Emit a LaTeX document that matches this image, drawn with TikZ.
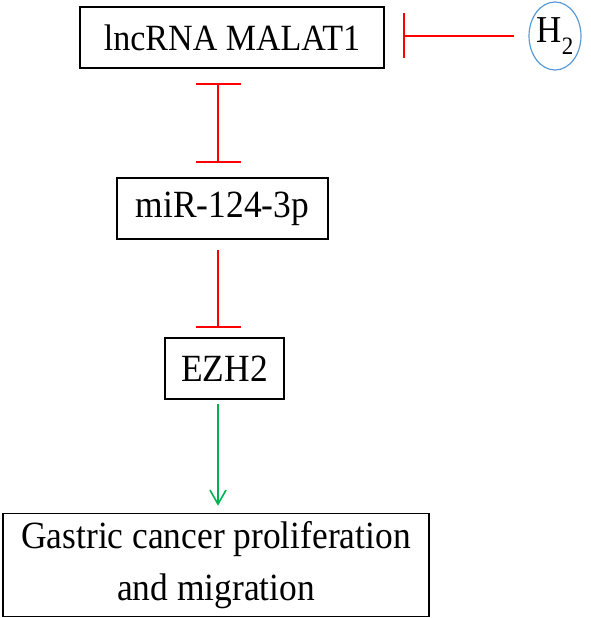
\documentclass[tikz,border=0pt]{standalone}
\usepackage{fontspec}
\setmainfont{Liberation Serif}
\newfontfamily\tallserif[FakeStretch=0.92]{Liberation Serif}
\usetikzlibrary{arrows.meta,shapes.geometric}
\definecolor{inhred}{RGB}{255,0,0}
\definecolor{actgreen}{RGB}{0,176,80}
\definecolor{ellblue}{RGB}{91,155,213}
\tikzset{
  box/.style={draw=black, line width=1.6pt, rectangle, inner sep=0pt, align=center,
    font=\tallserif\fontsize{38.5}{52}\selectfont},
  inh/.style={draw=inhred, line width=1.8pt},
  act/.style={draw=actgreen, line width=1.6pt, -{Straight Barb[length=14pt,width=16pt,line width=1.6pt]}},
}
\begin{document}
\begin{tikzpicture}[x=1pt,y=-1pt]
\useasboundingbox (0,0) rectangle (590,618);
\node[box, minimum width=304pt, minimum height=61pt, font=\tallserif\fontsize{37}{40}\selectfont] (malat) at (232,37.5) {lncRNA MALAT1};
\node[box, minimum width=211pt, minimum height=61pt] (mir) at (222.5,208.5) {miR-124-3p};
\node[box, minimum width=119pt, minimum height=61pt] (ezh) at (224.5,368.5) {EZH2};
\node[box, minimum width=426pt, minimum height=103pt] (gc) at (216,565) {Gastric cancer proliferation\\and migration};
\node[draw=ellblue, line width=1.2pt, ellipse, minimum width=50pt, minimum height=68pt, inner sep=0pt,
  font=\tallserif\fontsize{38}{40}\selectfont] (h2) at (555,36) {H\raisebox{-0.3em}{\fontsize{25}{25}\selectfont 2}};
\coordinate (spine) at (218,0);
\draw[inh, -{Bar[width=45pt]}, shorten <=14pt, shorten >=18pt] (h2.west) -- (malat.east |- h2.west);
\draw[inh, {Bar[width=45pt]}-{Bar[width=45pt]}, shorten <=14pt, shorten >=14pt] (malat.south -| spine) -- (mir.north -| spine);
\draw[inh, -{Bar[width=45pt]}, shorten <=10pt, shorten >=9pt] (mir.south -| spine) -- (ezh.north -| spine);
\draw[act, shorten <=4pt, shorten >=7pt] (ezh.south -| spine) -- (gc.north -| spine);
\end{tikzpicture}
\end{document}
